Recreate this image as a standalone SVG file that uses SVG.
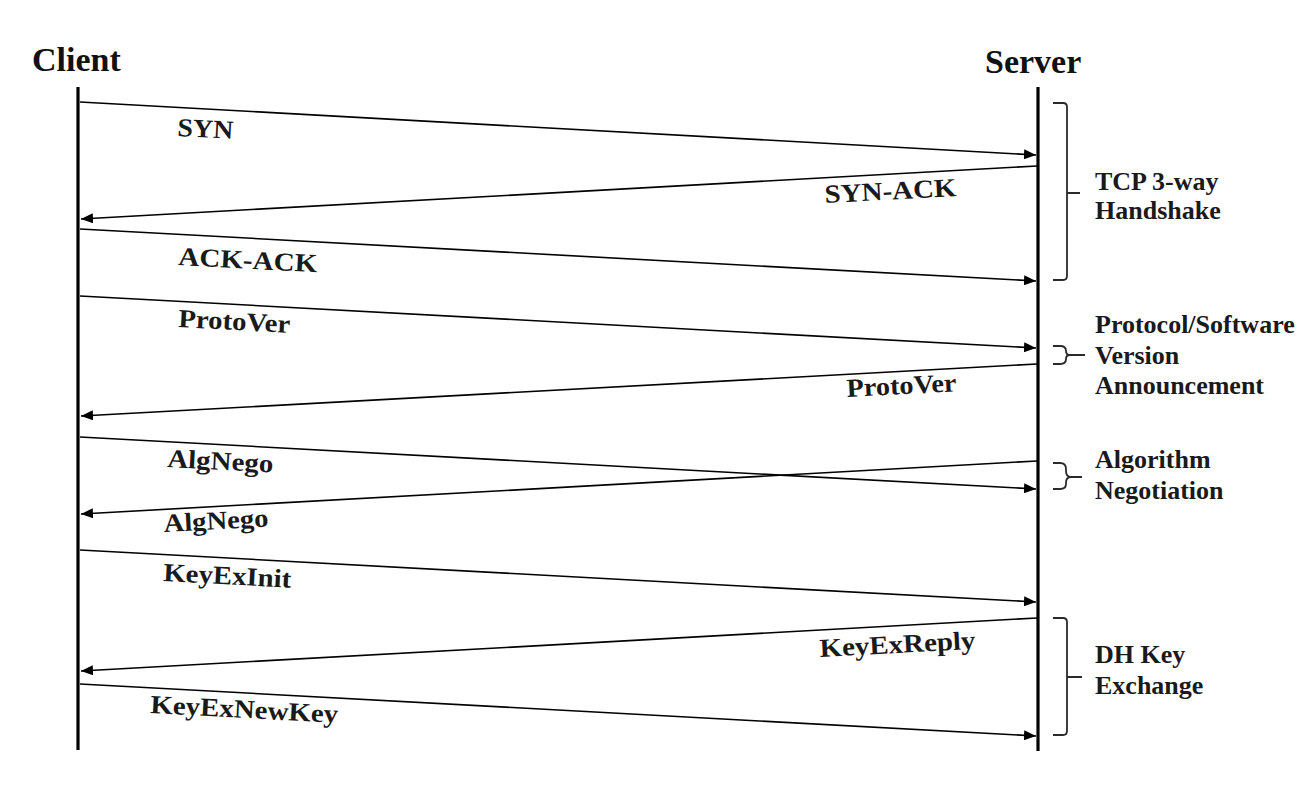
<svg xmlns="http://www.w3.org/2000/svg" width="1316" height="796" viewBox="0 0 1316 796">
<style>
.hdr{font-family:"Liberation Serif","Times New Roman",serif;font-weight:bold;font-size:34px;fill:#111}
.lbl{font-family:"Liberation Serif","Times New Roman",serif;font-weight:bold;font-size:26px;fill:#1a1a1a}
.grp{font-family:"Liberation Serif","Times New Roman",serif;font-weight:bold;font-size:26px;fill:#1a1a1a}
.life{stroke:#000;stroke-width:3.2;fill:none}
.msg{stroke:#000;stroke-width:1.6;fill:none;marker-end:url(#ah)}
.brace{stroke:#2a2a2a;stroke-width:1.8;fill:none}
</style>
<defs>
<marker id="ah" markerUnits="userSpaceOnUse" markerWidth="12" markerHeight="10" refX="12" refY="5" orient="auto">
<path d="M0,0 L12,5 L0,10 z" fill="#000"/>
</marker>
</defs>
<rect width="1316" height="796" fill="#fff"/>
<g id="client">
<text class="hdr" x="32" y="71">Client</text>
<line class="life" x1="78" y1="87" x2="78" y2="750"/>
</g>
<g id="server">
<text class="hdr" x="985" y="73">Server</text>
<line class="life" x1="1038" y1="87" x2="1038" y2="751"/>
</g>
<g id="connectors">
<line class="msg" x1="80" y1="102" x2="1036" y2="155"/>
<line class="msg" x1="1037" y1="166" x2="81" y2="219"/>
<line class="msg" x1="80" y1="229" x2="1036" y2="281"/>
<line class="msg" x1="80" y1="296" x2="1036" y2="348"/>
<line class="msg" x1="1037" y1="364" x2="81" y2="416"/>
<line class="msg" x1="80" y1="437" x2="1036" y2="489"/>
<line class="msg" x1="1037" y1="461" x2="81" y2="514"/>
<line class="msg" x1="80" y1="550" x2="1036" y2="602"/>
<line class="msg" x1="1037" y1="618" x2="81" y2="671"/>
<line class="msg" x1="80" y1="684" x2="1036" y2="736"/>
</g>
<g id="msg-labels">
<text class="lbl" x="177" y="136" textLength="56" lengthAdjust="spacingAndGlyphs" transform="rotate(3 177 136)">SYN</text>
<text class="lbl" x="825" y="203" textLength="132" lengthAdjust="spacingAndGlyphs" transform="rotate(-3 825 203)">SYN-ACK</text>
<text class="lbl" x="178" y="265" textLength="139" lengthAdjust="spacingAndGlyphs" transform="rotate(3 178 265)">ACK-ACK</text>
<text class="lbl" x="178" y="327" textLength="112" lengthAdjust="spacingAndGlyphs" transform="rotate(3 178 327)">ProtoVer</text>
<text class="lbl" x="847" y="397" textLength="110" lengthAdjust="spacingAndGlyphs" transform="rotate(-3 847 397)">ProtoVer</text>
<text class="lbl" x="167" y="467" textLength="106" lengthAdjust="spacingAndGlyphs" transform="rotate(3 167 467)">AlgNego</text>
<text class="lbl" x="164" y="532" textLength="105" lengthAdjust="spacingAndGlyphs" transform="rotate(-3 164 532)">AlgNego</text>
<text class="lbl" x="163" y="581" textLength="128" lengthAdjust="spacingAndGlyphs" transform="rotate(3 163 581)">KeyExInit</text>
<text class="lbl" x="820" y="657" textLength="156" lengthAdjust="spacingAndGlyphs" transform="rotate(-3 820 657)">KeyExReply</text>
<text class="lbl" x="150" y="713" textLength="188" lengthAdjust="spacingAndGlyphs" transform="rotate(3 150 713)">KeyExNewKey</text>
</g>
<g id="phase-tcp">
<path class="brace" d="M1053,103 H1063 Q1067,103 1067,107 V276 Q1067,280 1063,280 H1053 M1067,193 H1080"/>
<text class="grp" x="1095" y="190">TCP 3-way</text>
<text class="grp" x="1095" y="219">Handshake</text>
</g>
<g id="phase-version">
<path class="brace" d="M1053,346 H1060 Q1066,346 1066,351 Q1066,355 1070,355 Q1066,355 1066,359 Q1066,364 1060,364 H1053 M1070,355 H1085"/>
<text class="grp" x="1095" y="333">Protocol/Software</text>
<text class="grp" x="1095" y="364">Version</text>
<text class="grp" x="1095" y="394">Announcement</text>
</g>
<g id="phase-alg">
<path class="brace" d="M1053,463 H1060 Q1066,463 1066,469 V471 Q1066,477 1071,477 Q1066,477 1066,483 V484 Q1066,489 1060,489 H1053 M1071,477 H1082"/>
<text class="grp" x="1095" y="468">Algorithm</text>
<text class="grp" x="1095" y="499">Negotiation</text>
</g>
<g id="phase-dh">
<path class="brace" d="M1053,618 H1063 Q1067,618 1067,622 V731 Q1067,735 1063,735 H1053 M1067,677 H1082"/>
<text class="grp" x="1095" y="663">DH Key</text>
<text class="grp" x="1095" y="694">Exchange</text>
</g>
</svg>
